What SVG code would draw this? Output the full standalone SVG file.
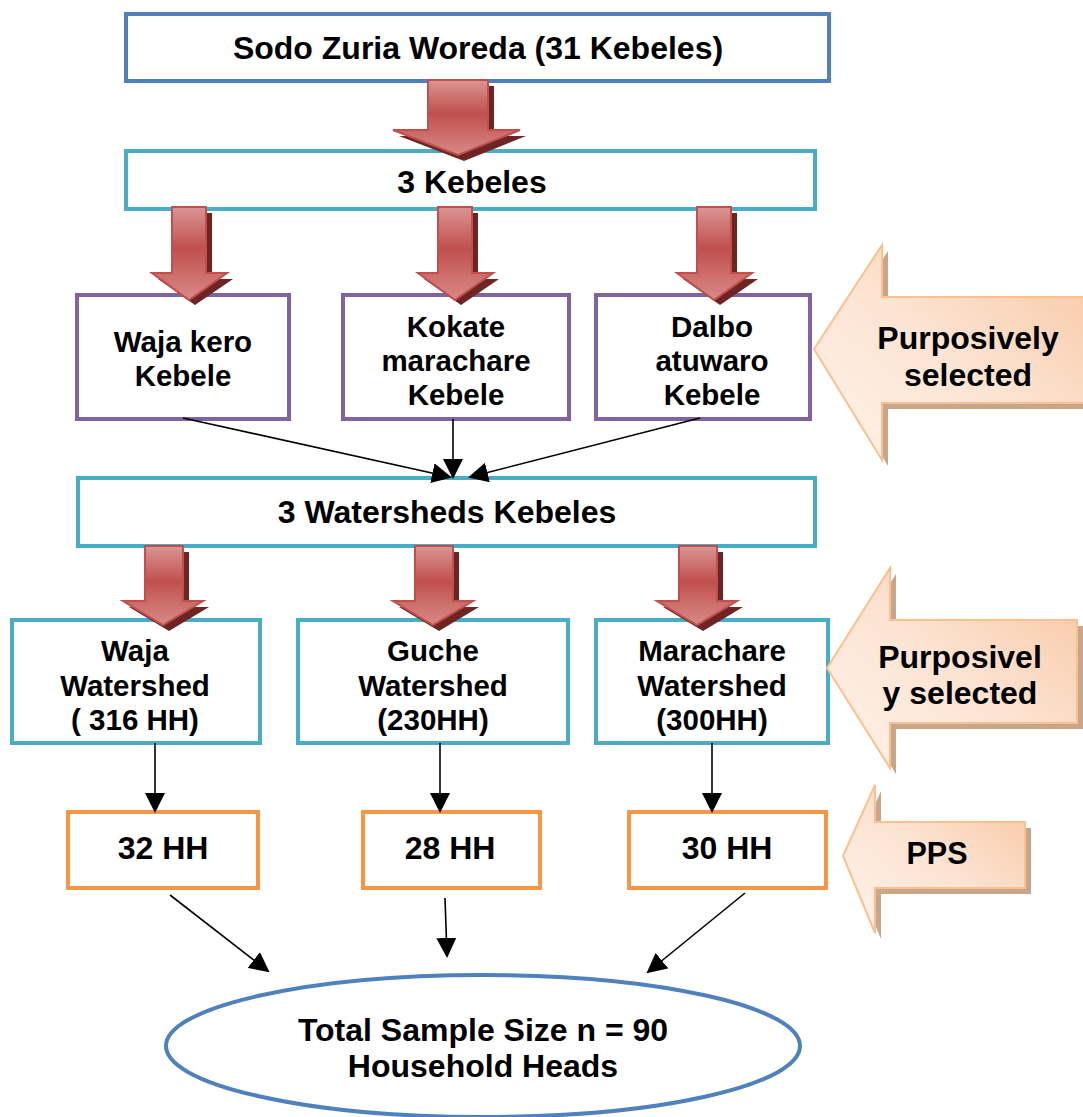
<svg xmlns="http://www.w3.org/2000/svg" width="1083" height="1117" viewBox="0 0 1083 1117">
<defs>
<linearGradient id="red" x1="0" y1="0" x2="0" y2="1">
<stop offset="0" stop-color="#DA9593"/>
<stop offset="0.45" stop-color="#C0504D"/>
<stop offset="1" stop-color="#D88A88"/>
</linearGradient>
<linearGradient id="peach" x1="0" y1="1" x2="1" y2="0">
<stop offset="0" stop-color="#FFF3EA"/>
<stop offset="0.5" stop-color="#FCE3D2"/>
<stop offset="1" stop-color="#F8C6A0"/>
</linearGradient>
<marker id="ah2" viewBox="0 0 10 10" refX="9" refY="5" markerWidth="20" markerHeight="20" orient="auto" markerUnits="userSpaceOnUse">
<path d="M0,0 L10,5 L0,10 z" fill="#000"/>
</marker>
</defs>
<style>
text{font-family:"Liberation Sans",Arial,sans-serif;font-weight:bold;font-size:32px;fill:#000;text-anchor:middle}
text.m{font-size:29.5px}
.box{fill:#fff;stroke-width:4}
.blue{stroke:#4F81BD}
.teal{stroke:#4BACC6}
.purple{stroke:#8064A2}
.orange{stroke:#F79646}
.ra{fill:url(#red);stroke:#C0504D;stroke-width:2}
.rs{fill:#6E2422}
.pa{fill:url(#peach);stroke:#FAC090;stroke-width:2}
.ps{fill:#C9A58A}
.ln{stroke:#000;stroke-width:1.6;fill:none}
</style>

<g id="n-sodo">
<rect class="box blue" x="126" y="14" width="703" height="67"/>
<text x="478" y="59">Sodo Zuria Woreda (31 Kebeles)</text>
</g>
<g id="n-3kebeles">
<rect class="box teal" x="126" y="151" width="689" height="58"/>
<text x="472" y="193">3 Kebeles</text>
</g>

<g id="n-waja-kero">
<rect class="box purple" x="77" y="295" width="212" height="124"/>
<text class="m" x="183" y="352">Waja kero</text>
<text class="m" x="183" y="386">Kebele</text>
</g>
<g id="n-kokate">
<rect class="box purple" x="343" y="295" width="226" height="124"/>
<text class="m" x="456" y="337">Kokate</text>
<text class="m" x="456" y="371">marachare</text>
<text class="m" x="456" y="405">Kebele</text>
</g>
<g id="n-dalbo">
<rect class="box purple" x="596" y="295" width="214" height="124"/>
<text class="m" x="712" y="337">Dalbo</text>
<text class="m" x="712" y="371">atuwaro</text>
<text class="m" x="712" y="405">Kebele</text>
</g>

<g id="n-purposive1">
<path class="ps" d="M820,355 L888,251 V303 H1090 V409 H888 V466 Z"/>
<path class="pa" d="M814,349 L882,245 V297 H1090 V403 H882 V460 Z"/>
<text x="968" y="349">Purposively</text>
<text x="968" y="386">selected</text>
</g>

<g id="n-3watersheds">
<rect class="box teal" x="78" y="478" width="737" height="68"/>
<text x="447" y="523">3 Watersheds Kebeles</text>
</g>

<g id="n-waja-ws">
<rect class="box teal" x="12" y="620" width="248" height="123"/>
<text class="m" x="135" y="661">Waja</text>
<text class="m" x="135" y="696">Watershed</text>
<text class="m" x="135" y="730">( 316 HH)</text>
</g>
<g id="n-guche-ws">
<rect class="box teal" x="298" y="620" width="270" height="123"/>
<text class="m" x="433" y="661">Guche</text>
<text class="m" x="433" y="696">Watershed</text>
<text class="m" x="433" y="730">(230HH)</text>
</g>
<g id="n-marachare-ws">
<rect class="box teal" x="596" y="620" width="232" height="123"/>
<text class="m" x="712" y="661">Marachare</text>
<text class="m" x="712" y="696">Watershed</text>
<text class="m" x="712" y="730">(300HH)</text>
</g>

<g id="n-purposive2">
<path class="ps" d="M833,674 L896,574 V626 H1083 V729 H896 V774 Z"/>
<path class="pa" d="M827,668 L890,568 V620 H1077 V723 H890 V768 Z"/>
<text x="960" y="668">Purposivel</text>
<text x="960" y="704">y selected</text>
</g>

<g id="n-32hh">
<rect class="box orange" x="68" y="812" width="190" height="76"/>
<text x="163" y="859">32 HH</text>
</g>
<g id="n-28hh">
<rect class="box orange" x="363" y="812" width="177" height="76"/>
<text x="450" y="859">28 HH</text>
</g>
<g id="n-30hh">
<rect class="box orange" x="629" y="812" width="197" height="76"/>
<text x="727" y="859">30 HH</text>
</g>

<g id="n-pps">
<path class="ps" d="M849,862 L881,791 V828 H1031 V894 H881 V939 Z"/>
<path class="pa" d="M843,856 L875,785 V822 H1025 V888 H875 V933 Z"/>
<text x="937" y="864" style="font-size:30.5px">PPS</text>
</g>

<g id="n-total">
<ellipse cx="483" cy="1046" rx="317" ry="71" fill="#fff" stroke="#4F81BD" stroke-width="4"/>
<text x="483" y="1041">Total Sample Size n = 90</text>
<text x="483" y="1077">Household Heads</text>
</g>

<g id="big-red-arrow">
<path class="rs" d="M434,86 H494 V136 H526 L464,161 L399,136 H434 Z"/>
<path class="ra" d="M428,80 H488 V130 H520 L458,155 L393,130 H428 Z"/>
</g>

<g id="red-arrows-row2">
<path class="rs" d="M178,213 H212 V279 H233 L195,305 L158,279 H178 Z"/>
<path class="ra" d="M172,207 H206 V273 H227 L189,300 L152,273 H172 Z"/>
<path class="rs" d="M444,213 H478 V279 H499 L461,305 L424,279 H444 Z"/>
<path class="ra" d="M438,207 H472 V273 H493 L455,300 L418,273 H438 Z"/>
<path class="rs" d="M703,213 H737 V279 H758 L720,305 L683,279 H703 Z"/>
<path class="ra" d="M697,207 H731 V273 H752 L714,300 L677,273 H697 Z"/>
</g>

<g id="red-arrows-row4">
<path class="rs" d="M151,552 H189 V607 H209 L169,631 L129,607 H151 Z"/>
<path class="ra" d="M145,546 H183 V601 H203 L163,625 L123,601 H145 Z"/>
<path class="rs" d="M421,552 H459 V607 H479 L439,631 L399,607 H421 Z"/>
<path class="ra" d="M415,546 H453 V601 H473 L433,625 L393,601 H415 Z"/>
<path class="rs" d="M685,552 H723 V607 H743 L703,631 L663,607 H685 Z"/>
<path class="ra" d="M679,546 H717 V601 H737 L697,625 L657,601 H679 Z"/>
</g>

<g id="connectors">
<line class="ln" x1="183" y1="418" x2="450" y2="477" marker-end="url(#ah2)"/>
<line class="ln" x1="453" y1="419" x2="453" y2="477" marker-end="url(#ah2)"/>
<line class="ln" x1="700" y1="418" x2="470" y2="477" marker-end="url(#ah2)"/>
<line class="ln" x1="155" y1="743" x2="155" y2="811" marker-end="url(#ah2)"/>
<line class="ln" x1="440" y1="743" x2="440" y2="811" marker-end="url(#ah2)"/>
<line class="ln" x1="712" y1="743" x2="712" y2="811" marker-end="url(#ah2)"/>
<line class="ln" x1="170" y1="895" x2="268" y2="971" marker-end="url(#ah2)"/>
<line class="ln" x1="445" y1="898" x2="447" y2="956" marker-end="url(#ah2)"/>
<line class="ln" x1="745" y1="893" x2="648" y2="972" marker-end="url(#ah2)"/>
</g>
</svg>
